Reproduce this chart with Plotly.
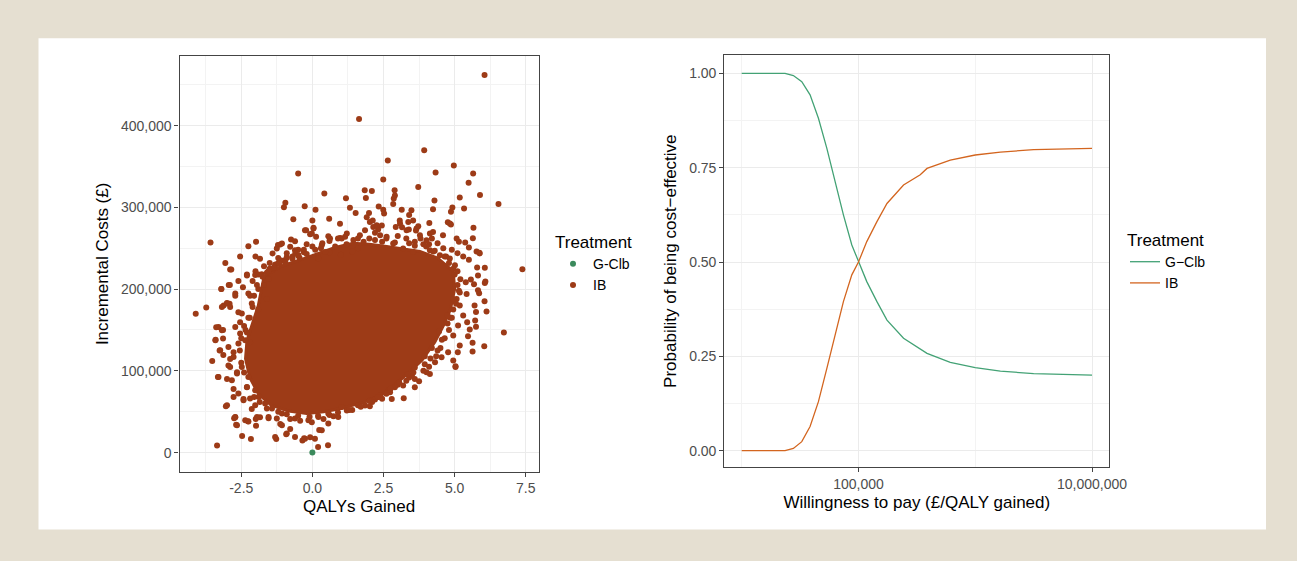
import plotly.graph_objects as go

W, H = 1297, 561

# ---------------- Left panel data: PSA scatter (QALYs gained vs incremental cost, £) -------------
# reference strategy G-Clb sits at the origin
gclb_qaly = [0.0]
gclb_cost = [0]

# individual IB simulations readable outside the dense core (QALYs, £ thousands)
ib_qaly = [
    6.05, 1.64, 3.93, 2.65, 4.97, 4.33, 5.65, -0.50, 2.49, 5.49, 3.72, 1.84, 2.09, 2.89, 2.90, 2.86,
    1.88, 0.42, 5.89, 1.18, 5.18, 4.29, 6.54, -0.95, -1.00, -0.27, 0.11, 1.32, 1.52, 2.84, 5.33, 4.24,
    4.87, 4.92, 2.33, 2.49, 2.52, 3.14, 3.48, 3.40, 1.99, 1.91, 2.12, 2.14, -0.67, 0.00, 0.59, 0.97,
    4.76, 4.87, 5.66, 5.64, 4.11, 4.13, 3.07, 2.93, 3.15, 3.54, 3.72, 3.39, 3.64, 2.44, 2.31, 2.20,
    0.04, -0.26, -0.08, 0.13, -3.58, -1.98, -2.25, -2.54, -3.06, -1.84, -1.40, -1.13, -1.21, -0.75,
    -0.61, 0.56, 0.97, 5.15, 5.37, 5.50, 5.77, 5.88, 4.20, 4.10, 3.90,
    1.80, 2.00, 2.60, 3.00, 3.30, 3.60, 3.80, 4.40, 4.60, 4.90, 5.10, 5.30, 5.50, 4.70, 4.30, 1.60,
    1.20, 0.80, 0.30, -0.20, -0.50, -0.90, -1.50, -1.70, -2.00, -2.30, -2.60, -2.90, -3.20, -2.85,
    -2.00, -1.20, -0.30, -1.30, -1.00, -0.70, -0.45, 0.20, 0.60, 1.00, 1.40,
    -4.10, -3.73, -3.35, -3.52, -3.32, -3.04, -3.40, -3.14, -3.38, -3.14, -3.20, -2.94, -3.12, -2.91,
    -3.26, -3.13, -2.75, -2.68, -2.47, -2.16, -2.26, -1.98, -1.99, -1.27, -0.92, -0.78, -0.35, -0.29,
    -0.08, 0.24, 0.20, 0.55,
    -2.89, -2.30, -2.01, -1.78, -1.54, -2.44, -2.71, -2.19, -3.00, -2.60, -2.54, -2.30, -2.19, -2.77,
    -2.89, -2.95, -2.65, -3.00, -2.77, -2.42, -2.13, -2.71, -2.25, -1.84, -1.54, -1.13, -0.78, -0.43,
    -0.02, 0.39, 0.74, 1.21,
    7.38, 6.73, 6.04, 6.12, 6.05, 6.06, 5.86, 5.82, 5.72, 5.75, 5.44, 5.53, 5.47, 5.63, 5.03, 4.95,
    5.11, 3.21, 2.79, 3.60, 3.75, 4.13, 1.85, 2.02, 2.32, 5.87, 6.06, 6.08, 5.63, 5.03, 5.70, 5.75,
    5.79, 5.82, 5.57, 5.68, 5.39, 5.18, 5.42, 5.07, 5.18, 5.30, 5.12, 4.95, 5.18, 4.77, 4.54, 4.31,
    4.01, 3.60, 3.19, 2.73, 2.38, 2.02,
    # top fringe
    -0.22, 0.04, -0.02, -1.07, -1.25, -0.78, -0.61, -0.49, -0.90, -1.13, -1.31, 0.33, 0.62, 0.45, 0.21,
    1.03, 1.21, 1.44, 1.67, 1.85, 2.02, 2.26, 2.38, 2.61, 2.84, 3.08, 3.31, 3.66, 3.37, 3.78, 4.01,
    4.24, 4.59, 4.83, 5.07, 3.19, 3.54, 4.13, 4.48, 4.83, 5.01,
    # left fringe
    -3.00, -3.18, -2.89, -2.71, -2.25, -2.13, -2.48, -3.30, -3.18, -3.41, -3.24, -2.95, -2.71, -2.54,
    -2.36, -2.60, -2.77, -2.89, -2.65, -2.83, -3.30, -2.48, -2.25, -2.30, -2.60, -2.77, -3.00, -2.42,
    -2.19, -2.01, -2.71, -2.65, -2.36, -1.95,
    # bottom fringe
    -1.54, -1.25, -1.07, -0.90, -1.31, -0.61, -0.26, 0.09, 0.33, 0.56, 0.91, 1.03, -2.01, -1.89, -1.66,
    -1.42, -1.07, -0.61, -0.14, 0.21, 0.56,
    # right fringe
    4.95, 5.00, 5.10, 5.00, 4.95, 4.90, 4.75, 4.65, 4.50, 4.35, 4.10, 3.90, 3.50, 3.30, 2.90, 2.60,
    2.20, 1.60, 1.40,
    # upper-left fringe
    -1.70, -1.90, -1.60, -1.75, -2.10, -1.40, -1.60, -1.90, -2.20, -2.40,
    # ring hugging the dense mass
    -1.50, -1.20, -0.90, -0.60, -0.30, 0.00, 0.35, 0.60, 0.90, 1.15, 1.60, 2.20, 2.45, 2.90, 3.40, 3.60,
    4.00, 4.25, 4.65, 4.80,
    5.10, 5.20, 5.15, 5.05, 4.85, 4.80, 4.55, 4.40, 4.15, 3.95, 3.55, 3.40, 3.00, 2.70, 2.45, 2.10, 1.70,
    1.30, 0.90, 0.60, 0.20, -0.10, -0.50, -0.90, -1.20, -1.60, -1.85, -2.05,
    -2.30, -2.40, -2.50, -2.55, -2.50, -2.35, -2.25, -2.10, -2.05, -1.95, -1.90,
    # along upper-left and lower-right edges of the mass
    -1.55, -1.35, -1.15, -0.95, -0.70, -0.50, -0.20, 0.10,
    4.95, 4.75, 4.45, 4.20, 3.95, 3.60, 3.35, 3.05, 2.75, 2.30, 2.00,
]
ib_cost_k = [
    461.8, 408.0, 370.0, 357.4, 351.3, 342.7, 341.5, 341.5, 334.0, 330.0, 325.0, 321.0, 320.0, 321.0, 314.6, 310.9,
    311.6, 317.0, 315.0, 311.0, 312.0, 308.4, 304.0, 305.5, 300.0, 301.5, 297.0, 299.4, 293.0, 304.0, 298.6, 297.8,
    294.5, 299.9, 301.0, 297.0, 292.5, 297.0, 296.6, 290.8, 293.0, 288.0, 284.0, 276.0, 285.6, 284.0, 286.0, 280.0,
    281.9, 279.0, 275.0, 262.3, 281.0, 268.0, 284.0, 276.0, 275.8, 284.0, 277.0, 273.0, 271.7, 277.8, 273.0, 268.8,
    275.0, 272.0, 267.0, 264.0, 257.0, 258.0, 252.5, 240.0, 232.0, 237.0, 243.6, 254.6, 254.0, 260.7,
    258.6, 264.7, 262.6, 258.0, 257.0, 251.0, 246.0, 243.6, 262.0, 255.0, 255.0,
    258.0, 262.0, 262.0, 265.0, 262.0, 258.0, 262.0, 256.0, 250.0, 248.0, 244.0, 240.0, 236.0, 240.0, 247.0, 250.0,
    255.0, 252.0, 250.0, 255.0, 248.0, 244.0, 232.0, 228.0, 222.0, 218.0, 210.0, 205.0, 200.0, 224.0,
    240.0, 238.0, 245.0, 230.0, 235.0, 240.0, 238.0, 238.0, 245.0, 242.0, 246.0,
    170.0, 177.5, 8.6, 112.0, 92.5, 56.7, 138.0, 139.5, 153.4, 150.0, 200.0, 205.0, 180.0, 182.0,
    125.0, 119.5, 42.0, 34.0, 20.3, 16.6, 38.3, 33.0, 41.0, 16.6, 22.4, 28.9, 14.7, 17.5,
    18.7, 27.7, 6.9, 8.9,
    224.0, 216.6, 217.4, 218.2, 212.5, 202.3, 192.0, 192.0, 183.0, 171.7, 159.5, 147.0, 135.0, 122.8,
    114.6, 106.5, 98.3, 90.0, 77.8, 65.6, 53.4, 43.2, 38.0, 43.2, 42.0, 35.0, 41.0, 39.0,
    37.0, 41.0, 44.4, 51.4,
    224.4, 147.0, 130.0, 172.6, 185.0, 207.6, 195.0, 198.7, 161.6, 154.0, 159.5, 150.6, 142.4, 123.6, 104.8, 112.6,
    122.8, 66.5, 65.6, 80.0, 87.3, 96.2, 57.5, 56.7, 68.0, 244.5, 226.2, 209.2, 134.5, 105.7, 180.0, 172.0,
    226.4, 216.6, 211.8, 206.0, 208.4, 196.0, 194.0, 188.0, 180.0, 167.7, 155.4, 143.2, 131.0, 122.8, 116.6, 110.5,
    98.3, 90.0, 82.0, 73.8, 69.8, 63.6,
    # top fringe
    272.0, 274.0, 268.0, 255.8, 249.7, 251.7, 247.6, 241.5, 239.4, 235.4, 229.3, 253.7, 262.0, 245.5, 237.5,
    262.0, 268.0, 260.0, 266.0, 272.0, 282.0, 278.0, 266.0, 263.9, 255.8, 280.3, 272.0, 274.0, 282.0, 266.0, 259.9,
    270.0, 266.0, 280.3, 262.0, 249.7, 245.5, 247.6, 241.5, 237.5, 229.3,
    # left fringe
    182.4, 178.2, 178.2, 194.6, 194.6, 182.4, 170.1, 153.7, 149.7, 137.5, 125.2, 129.3, 153.7, 145.7,
    137.5, 133.4, 117.0, 104.8, 96.7, 88.5, 92.5, 104.8, 92.5, 80.3, 72.2, 68.0, 57.9, 64.0,
    66.1, 57.9, 43.6, 33.4, 39.5, 43.6,
    # bottom fringe
    43.6, 41.6, 33.4, 23.3, 19.1, 19.1, 17.1, 17.1, 27.3, 35.5, 43.6, 55.8, 76.3, 68.0, 60.0,
    53.9, 47.7, 41.6, 39.5, 43.6, 47.7,
    # right fringe
    225.0, 218.0, 205.0, 185.0, 175.0, 165.0, 158.0, 140.0, 128.0, 118.0, 105.0, 100.0, 95.0, 88.0, 80.0, 72.0,
    65.0, 58.0, 52.0,
    # upper-left fringe
    205.0, 200.0, 220.0, 215.0, 210.0, 225.0, 188.0, 175.0, 165.0, 155.0,
    # ring hugging the dense mass
    225.0, 232.0, 238.0, 244.0, 248.0, 252.0, 256.0, 259.0, 262.0, 264.0, 262.0, 260.0, 258.0, 257.0, 256.0, 253.0,
    252.0, 246.0, 240.0, 232.0,
    222.0, 212.0, 198.0, 182.0, 165.0, 150.0, 138.0, 125.0, 115.0, 108.0, 98.0, 92.0, 83.0, 77.0, 66.0, 62.0, 56.0,
    52.0, 49.0, 46.0, 45.0, 44.0, 45.0, 47.0, 50.0, 54.0, 62.0, 68.0,
    80.0, 98.0, 110.0, 125.0, 140.0, 150.0, 165.0, 178.0, 192.0, 205.0, 218.0,
    # along upper-left and lower-right edges of the mass
    222.0, 226.0, 231.0, 233.0, 237.0, 241.0, 243.0, 248.0,
    188.0, 168.0, 148.0, 128.0, 118.0, 104.0, 96.0, 86.0, 78.0, 68.0, 63.0,
]
ib_cost = [v * 1000 for v in ib_cost_k]

# outline of the region where the IB simulations overlap into a solid mass (QALYs, £ thousands)
core_qaly = [-1.70, -1.10, -0.40, 0.27, 0.80, 1.43, 2.00, 2.61, 3.20, 3.78, 4.40, 4.95, 5.00, 4.85,
             4.60, 4.30, 3.85, 3.20, 2.50, 1.85, 1.00, 0.40, -0.20, -0.84, -1.45, -1.90, -2.20,
             -2.35, -2.30, -2.10, -1.90, -1.80, -1.70]
core_cost_k = [215, 228, 236, 244, 251, 256, 255, 252, 249, 246, 238, 222, 200, 175,
               155, 135, 113, 92, 72, 62, 54, 50, 48, 51, 58, 72, 92,
               115, 137, 160, 180, 198, 215]
core_cost = [v * 1000 for v in core_cost_k]

# ---------------- Right panel data: cost-effectiveness acceptability curves -------------
wtp = [10000, 16000, 23500, 27700, 32700, 38500, 45400, 53600, 63100, 74300, 87700, 100000,
       117800, 143900, 175400, 243200, 338100, 386400, 611000, 1000000, 1641000, 3162000, 10000000]
p_gclb = [1.0, 1.0, 1.0, 0.994, 0.978, 0.943, 0.881, 0.801, 0.713, 0.625, 0.545, 0.5,
          0.448, 0.395, 0.346, 0.298, 0.271, 0.258, 0.234, 0.220, 0.211, 0.204, 0.200]
p_ib = [0.0, 0.0, 0.0, 0.006, 0.024, 0.064, 0.130, 0.218, 0.307, 0.395, 0.466, 0.5,
        0.554, 0.607, 0.655, 0.704, 0.731, 0.748, 0.770, 0.7835, 0.791, 0.798, 0.801]

left_xticks = [-2.5, 0.0, 2.5, 5.0, 7.5]
left_xticktext = ["-2.5", "0.0", "2.5", "5.0", "7.5"]
left_yticks = [0, 100000, 200000, 300000, 400000]
left_yticktext = ["0", "100,000", "200,000", "300,000", "400,000"]
right_xticks = [100000, 10000000]
right_xticktext = ["100,000", "10,000,000"]
right_yticks = [0, 0.25, 0.5, 0.75, 1.0]
right_yticktext = ["0.00", "0.25", "0.50", "0.75", "1.00"]

# ---------------- styling -------------
BEIGE = "#E5DFD1"
BROWN = "#9D3B17"
GREEN_PT = "#3B8A5C"
GREEN_LN = "#43A275"
ORANGE_LN = "#D3651F"
FONT = "Liberation Sans, Arial, Helvetica, sans-serif"
TICKC = "#4D4D4D"

def px_x(p):
    return p / W

def px_y(p):
    return 1 - p / H

fig = go.Figure()

fig.add_trace(go.Scatter(x=gclb_qaly, y=gclb_cost, mode="markers", name="G-Clb",
                         marker=dict(color=GREEN_PT, size=6), xaxis="x", yaxis="y",
                         legend="legend"))
fig.add_trace(go.Scatter(x=core_qaly, y=core_cost, mode="lines", fill="toself",
                         fillcolor=BROWN, line=dict(color=BROWN, width=3),
                         showlegend=False, hoverinfo="skip", xaxis="x", yaxis="y"))
fig.add_trace(go.Scatter(x=ib_qaly, y=ib_cost, mode="markers", name="IB",
                         marker=dict(color=BROWN, size=6), xaxis="x", yaxis="y",
                         legend="legend"))

fig.add_trace(go.Scatter(x=wtp, y=p_gclb, mode="lines", name="G\u2212Clb",
                         line=dict(color=GREEN_LN, width=1.3), xaxis="x2", yaxis="y2",
                         legend="legend2"))
fig.add_trace(go.Scatter(x=wtp, y=p_ib, mode="lines", name="IB",
                         line=dict(color=ORANGE_LN, width=1.3), xaxis="x2", yaxis="y2",
                         legend="legend2"))

axis_common = dict(showline=True, mirror=True, linecolor="#444444", linewidth=1.2,
                   ticks="outside", ticklen=4, tickcolor="#444444", tickwidth=1,
                   gridcolor="#EBEBEB", gridwidth=1.2, zeroline=False,
                   tickfont=dict(family=FONT, size=14, color=TICKC),
                   tickmode="array")
minor_common = dict(showgrid=True, gridcolor="#F3F3F3", gridwidth=0.7, ticks="")

fig.update_layout(
    width=W, height=H, autosize=False,
    margin=dict(l=0, r=0, t=0, b=0, pad=0, autoexpand=False),
    paper_bgcolor=BEIGE,
    plot_bgcolor="white",
    font=dict(family=FONT, color="black"),
    showlegend=True,
    xaxis=dict(axis_common, domain=[px_x(179.5), px_x(538.6)], range=[-4.67, 7.95],
               tickvals=left_xticks, ticktext=left_xticktext, anchor="y",
               minor=dict(minor_common, tickmode="array", tickvals=[-3.75, -1.25, 1.25, 3.75, 6.25]),
               title=dict(text="QALYs Gained", font=dict(size=17, color="black"), standoff=4)),
    yaxis=dict(axis_common, domain=[px_y(471.5), px_y(56.2)], range=[-23100, 484900],
               tickvals=left_yticks, ticktext=left_yticktext, anchor="x",
               minor=dict(minor_common, tickmode="array",
                          tickvals=[50000, 150000, 250000, 350000, 450000]),
               title=dict(text="Incremental Costs (£)", font=dict(size=17, color="black"), standoff=8)),
    xaxis2=dict(axis_common, type="log", domain=[px_x(724.3), px_x(1109.3)], range=[3.851, 7.148],
                tickvals=right_xticks, ticktext=right_xticktext, anchor="y2",
                minor=dict(minor_common, tickmode="array", tickvals=[10000, 1000000]),
                title=dict(text="Willingness to pay (£/QALY gained)", font=dict(size=17, color="black"),
                           standoff=4)),
    yaxis2=dict(axis_common, domain=[px_y(467.3), px_y(55)], range=[-0.044, 1.0485],
                tickvals=right_yticks, ticktext=right_yticktext, anchor="x2",
                minor=dict(minor_common, tickmode="array", tickvals=[0.125, 0.375, 0.625, 0.875]),
                title=dict(text="Probability of being cost\u2212effective",
                           font=dict(size=17, color="black"), standoff=8)),
    legend=dict(x=px_x(553), y=px_y(226), xanchor="left", yanchor="top",
                bgcolor="rgba(0,0,0,0)", font=dict(family=FONT, size=14, color="black"),
                title=dict(text="Treatment", font=dict(size=17, color="black")),
                tracegroupgap=0, itemwidth=30),
    legend2=dict(x=px_x(1125), y=px_y(224), xanchor="left", yanchor="top",
                 bgcolor="rgba(0,0,0,0)", font=dict(family=FONT, size=14, color="black"),
                 title=dict(text="Treatment", font=dict(size=17, color="black")),
                 tracegroupgap=0, itemwidth=30),
    shapes=[dict(type="rect", xref="paper", yref="paper", layer="below",
                 x0=px_x(38.5), x1=px_x(1266), y0=px_y(529.5), y1=px_y(38.3),
                 fillcolor="white", line=dict(width=0))],
)

fig.write_html("out.html",
               config={"responsive": False, "displayModeBar": False},
               post_script="document.body.style.margin='0';document.body.style.padding='0';"
                           "document.body.style.overflow='hidden';")
